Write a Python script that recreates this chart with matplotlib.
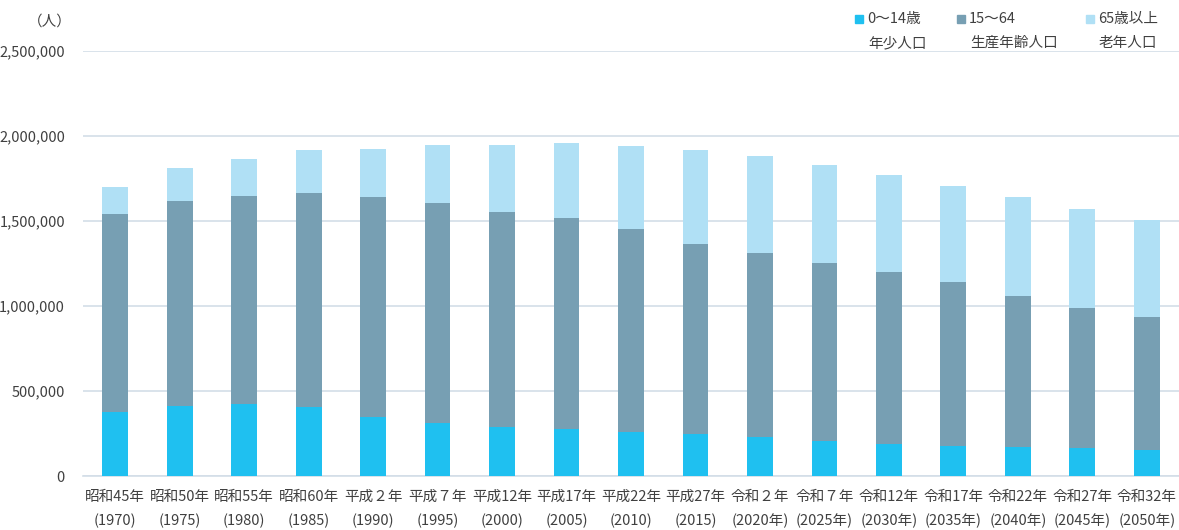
import matplotlib
matplotlib.use("Agg")
import matplotlib.pyplot as plt
from matplotlib.patches import Rectangle
from matplotlib.ticker import FuncFormatter, MultipleLocator

plt.rcParams['font.family'] = ['Noto Sans CJK JP', 'DejaVu Sans']

# Era names and western years for each census / projection point
eras = ["昭和45年", "昭和50年", "昭和55年", "昭和60年", "平成２年", "平成７年",
        "平成12年", "平成17年", "平成22年", "平成27年", "令和２年", "令和７年",
        "令和12年", "令和17年", "令和22年", "令和27年", "令和32年"]
years = ["(1970)", "(1975)", "(1980)", "(1985)", "(1990)", "(1995)",
         "(2000)", "(2005)", "(2010)", "(2015)", "(2020年)", "(2025年)",
         "(2030年)", "(2035年)", "(2040年)", "(2045年)", "(2050年)"]

# Population by age group (persons)
young = [378000, 412000, 422000, 406000, 347000, 312000, 290000, 275000, 261000,
         249000, 229000, 206000, 188000, 174000, 168000, 165000, 153000]
working = [1161000, 1206000, 1223000, 1261000, 1292000, 1296000, 1263000, 1241000,
           1191000, 1116000, 1081000, 1046000, 1013000, 968000, 890000, 826000, 783000]
elderly = [163000, 194000, 222000, 251000, 287000, 341000, 396000, 441000, 489000,
           553000, 572000, 576000, 568000, 566000, 584000, 582000, 570000]

series_top = ["0～14歳", "15～64", "65歳以上"]
series_bottom = ["年少人口", "生産年齢人口", "老年人口"]
colors = ["#1fc0f0", "#779fb3", "#b0e0f5"]

W, H = 1179, 530
fig = plt.figure(figsize=(W / 100, H / 100), dpi=100)
ax = fig.add_axes([83 / W, 1 - 476 / H, (1179 - 83) / W, (476 - 51) / H])

x = list(range(len(eras)))
bw = 0.4
bottom2 = [a + b for a, b in zip(young, working)]
ax.bar(x, young, bw, color=colors[0], zorder=3)
ax.bar(x, working, bw, bottom=young, color=colors[1], zorder=3)
ax.bar(x, elderly, bw, bottom=bottom2, color=colors[2], zorder=3)

ax.set_xlim(-0.5, len(eras) - 0.5)
ax.set_ylim(0, 2500000)
ax.yaxis.set_major_locator(MultipleLocator(500000))
ax.yaxis.set_major_formatter(FuncFormatter(lambda v, p: f"{int(v):,}"))
grid_c = "#d3dee8"
ax.grid(axis="y", color=grid_c, linewidth=1.2, zorder=0)
for s in ["left", "right", "top"]:
    ax.spines[s].set_visible(False)
ax.spines["bottom"].set_color(grid_c)
ax.spines["bottom"].set_linewidth(1.2)
ax.tick_params(axis="both", length=0, labelsize=10.5, labelcolor="#404040")
ax.tick_params(axis="y", pad=13)
ax.tick_params(axis="x", pad=10)
ax.set_xticks(x)
ax.set_xticklabels([f"{e}\n{y}" for e, y in zip(eras, years)], linespacing=1.85)

fig.text(72 / W, 1 - 22 / H, "（人）", ha="right", va="center",
         fontsize=10.5, color="#404040")

# Legend: colour square with two-line caption
leg_x = [855, 957, 1086]
for lx, c, t1, t2 in zip(leg_x, colors, series_top, series_bottom):
    fig.patches.append(Rectangle((lx / W, 1 - 23 / H), 8 / W, 8 / H,
                                 transform=fig.transFigure, color=c))
    fig.text((lx + 12) / W, 1 - 19 / H, t1, ha="left", va="center",
             fontsize=10.5, color="#404040")
    fig.text((lx + 13) / W, 1 - 43 / H, t2, ha="left", va="center",
             fontsize=10.5, color="#404040")

fig.savefig("out.png", dpi=100)
